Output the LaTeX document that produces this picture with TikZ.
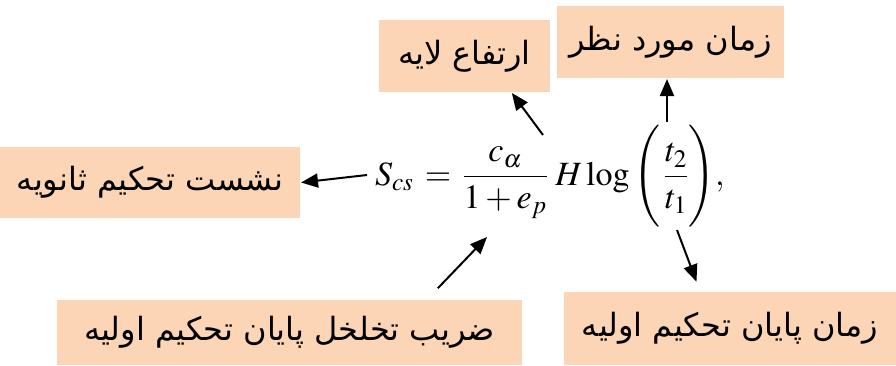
\documentclass[tikz,border=0pt]{standalone}
\usepackage{amsmath}
\usepackage{mathptmx}
\usepackage{fontspec}
\setmainfont{Liberation Serif}
\newfontfamily\farsi[Script=Arabic]{DejaVu Sans}
\TeXXeTstate=1
\usetikzlibrary{arrows.meta,calc}
\definecolor{peach}{RGB}{251,213,181}

\begin{document}
\begin{tikzpicture}[x=1pt, y=-1pt, >={Triangle[length=17pt,width=14pt]}, line width=2pt,
  lbl/.style={fill=peach, inner sep=0pt, font=\farsi\fontsize{32}{36}\selectfont}]
  \useasboundingbox (0,0) rectangle (896,365);

  % the formula
  \node[anchor=base west, inner sep=0pt, font=\fontsize{34}{38}\selectfont] (eq) at (374,185)
    {$S_{cs}\,=\,\dfrac{c_\alpha}{1+e_p}\;H\log\left(\,\dfrac{t_2}{t_1}\vrule height 60pt depth 44pt width 0pt\right)\!,$};

  % terms of the formula
  \coordinate (s) at (367,175);
  \coordinate (h) at (543,135);
  \coordinate (t2) at (667,122);
  \coordinate (t1) at (677,230);
  \coordinate (e) at (487,237);

  % labels
  \node[lbl, minimum width=300, minimum height=71] (sec) at (150,182.5) {\beginR نشست تحکیم ثانویه\endR};
  \node[lbl, minimum width=171, minimum height=72] (layer) at (464.5,56) {\beginR ارتفاع لایه\endR};
  \node[lbl, minimum width=227, minimum height=72] (tnow) at (670.5,42) {\beginR زمان مورد نظر\endR};
  \node[lbl, minimum width=465, minimum height=65] (void) at (289.5,332.5) {\beginR ضریب تخلخل پایان تحکیم اولیه\endR};
  \node[lbl, minimum width=332, minimum height=73] (tend) at (730,328.5) {\beginR زمان پایان تحکیم اولیه\endR};

  % arrows
  \draw[->] (s) -- (sec.east);
  \draw[->] (h) -- (layer.-38);
  \draw[->] (t2) -- (t2 |- tnow.south);
  \draw[->, shorten >=10pt] (t1) -- ($(tend.north)+(-30,0)$);
  \draw[->, shorten <=15pt] ($(void.north)+(138,0)$) -- (e);
\end{tikzpicture}
\end{document}
